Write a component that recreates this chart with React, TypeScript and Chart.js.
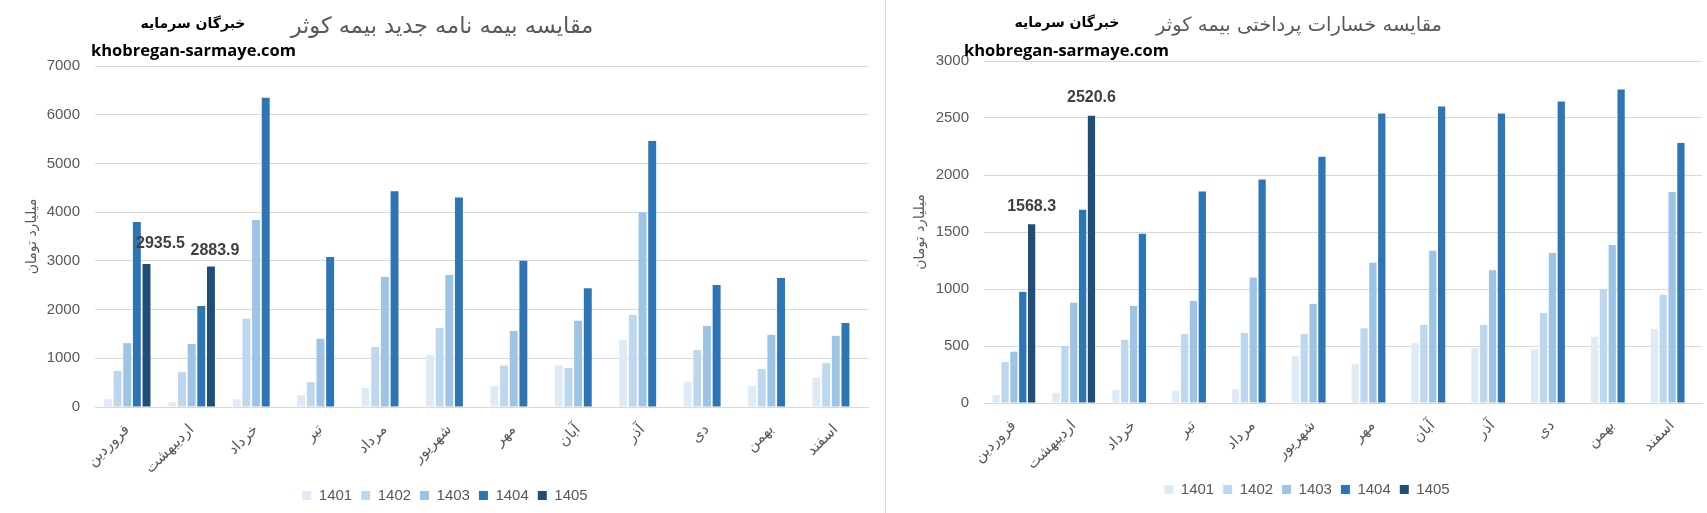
import React, { useEffect, useRef } from "react";
import { Chart, registerables } from "chart.js";

Chart.register(...registerables);

// ---------- data ----------
const MONTHS = ["فروردین", "اردیبهشت", "خرداد", "تیر", "مرداد", "شهریور", "مهر", "آبان", "آذر", "دی", "بهمن", "اسفند"];
const YEARS = ["1401", "1402", "1403", "1404", "1405"];
const COLORS = ["#DEEBF7", "#BDD7EE", "#9DC3E6", "#2E75B6", "#1F4E79"];

// left chart: new policies (billion toman)
const NEW_1401 = [160, 100, 160, 240, 390, 1065, 430, 850, 1380, 520, 430, 600];
const NEW_1402 = [740, 715, 1810, 510, 1230, 1625, 850, 800, 1890, 1170, 780, 900];
const NEW_1403 = [1310, 1295, 3840, 1400, 2670, 2710, 1560, 1770, 4000, 1665, 1480, 1460];
const NEW_1404 = [3800, 2075, 6350, 3080, 4430, 4300, 3000, 2440, 5460, 2505, 2650, 1725];
const NEW_1405 = [2935.5, 2883.9, null, null, null, null, null, null, null, null, null, null];
const NEW_TICKS = { max: 7000, step: 1000 };

// right chart: paid claims (billion toman)
const CLAIM_1401 = [70, 90, 115, 105, 120, 410, 340, 525, 480, 475, 580, 650];
const CLAIM_1402 = [360, 500, 555, 605, 615, 605, 655, 685, 685, 790, 1000, 950];
const CLAIM_1403 = [450, 880, 850, 895, 1100, 870, 1230, 1335, 1165, 1315, 1385, 1850];
const CLAIM_1404 = [975, 1695, 1485, 1855, 1960, 2160, 2540, 2600, 2540, 2645, 2750, 2280];
const CLAIM_1405 = [1568.3, 2520.6, null, null, null, null, null, null, null, null, null, null];
const CLAIM_TICKS = { max: 3000, step: 500 };

const TITLE_NEW = "مقایسه بیمه نامه جدید بیمه کوثر";
const TITLE_CLAIM = "مقایسه خسارات پرداختی بیمه کوثر";
const BRAND_FA = "خبرگان سرمایه";
const BRAND_EN = "khobregan-sarmaye.com";
const Y_TITLE = "میلیارد تومان";

// ---------- helpers ----------
const GRAY = "#595959";
const GRID = "#D9D9D9";
const LATIN = "'Liberation Sans', 'DejaVu Sans', sans-serif";
const ARABIC = "'DejaVu Sans', sans-serif";

const valueLabels = {
  id: "valueLabels",
  afterDatasetsDraw(chart: any, _args: any, opts: any) {
    const di = opts.datasetIndex;
    const meta = chart.getDatasetMeta(di);
    const data = chart.data.datasets[di].data;
    const ctx = chart.ctx;
    ctx.save();
    ctx.font = opts.font;
    ctx.fillStyle = opts.color;
    ctx.textAlign = "center";
    ctx.textBaseline = "middle";
    meta.data.forEach((bar: any, i: number) => {
      const v = data[i];
      if (v === null || v === undefined) return;
      const dx = (opts.shiftX && opts.shiftX[i]) || 0;
      const gap = (opts.gaps && opts.gaps[i]) || 18;
      ctx.fillText(String(v), bar.x + dx, bar.y - gap);
    });
    ctx.restore();
  },
};

function makeConfig(p: any) {
  return {
    type: "bar",
    data: {
      labels: MONTHS,
      datasets: YEARS.map((y, i) => ({
        label: y,
        data: p.series[i],
        backgroundColor: COLORS[i],
        borderWidth: 0,
        categoryPercentage: p.catPct,
        barPercentage: 0.82,
      })),
    },
    options: {
      responsive: false,
      maintainAspectRatio: false,
      animation: false,
      layout: { padding: { top: p.top, right: p.right, bottom: p.bottom, left: p.left } },
      plugins: {
        legend: {
          position: "bottom",
          labels: {
            boxWidth: 9,
            boxHeight: 9,
            padding: 9,
            color: GRAY,
            font: { size: 15, family: LATIN },
          },
        },
        tooltip: { enabled: false },
        valueLabels: {
          datasetIndex: 4,
          font: `bold 16px ${LATIN}`,
          color: "#404040",
          shiftX: p.labelShift,
          gaps: p.labelGap,
        },
      },
      scales: {
        x: {
          grid: { display: false },
          border: { color: GRID },
          ticks: {
            minRotation: 45,
            maxRotation: 45,
            autoSkip: false,
            padding: 6,
            color: GRAY,
            font: { size: 15, family: ARABIC },
          },
          afterFit: (s: any) => {
            s.height = p.xHeight;
          },
        },
        y: {
          min: 0,
          max: p.ticks.max,
          ticks: {
            stepSize: p.ticks.step,
            padding: 15,
            color: GRAY,
            font: { size: 15, family: LATIN },
            callback: (v: any) => String(v),
          },
          grid: { color: GRID, drawTicks: false },
          border: { display: false },
          title: {
            display: true,
            text: Y_TITLE,
            color: GRAY,
            font: { size: 14, family: ARABIC },
            padding: { top: p.yTitlePad, bottom: 0 },
          },
          afterFit: (s: any) => {
            s.width = p.yWidth;
          },
        },
      },
    },
    plugins: [valueLabels],
  };
}

function BarChart(props: { w: number; h: number; cfg: any }) {
  const ref = useRef<HTMLCanvasElement>(null);
  useEffect(() => {
    const chart = new Chart(ref.current as HTMLCanvasElement, props.cfg);
    return () => chart.destroy();
  }, []);
  return <canvas ref={ref} width={props.w} height={props.h} style={{ width: props.w, height: props.h, display: "block" }} />;
}

const abs = (o: any): React.CSSProperties => ({ position: "absolute", whiteSpace: "nowrap", ...o });

export default function App() {
  const leftCfg = makeConfig({
    series: [NEW_1401, NEW_1402, NEW_1403, NEW_1404, NEW_1405],
    ticks: NEW_TICKS,
    top: 66,
    right: 17,
    bottom: 0,
    left: 22,
    xHeight: 72,
    yWidth: 73,
    yTitlePad: 2,
    catPct: 0.75,
    labelShift: [14, 4],
    labelGap: [20, 16],
  });
  const rightCfg = makeConfig({
    series: [CLAIM_1401, CLAIM_1402, CLAIM_1403, CLAIM_1404, CLAIM_1405],
    ticks: CLAIM_TICKS,
    top: 61,
    right: 5,
    bottom: 6,
    left: 26,
    xHeight: 70,
    yWidth: 72,
    yTitlePad: 0,
    catPct: 0.74,
    labelShift: [0, 0],
    labelGap: [18, 18],
  });

  const titleBase = { fontFamily: ARABIC, color: GRAY, direction: "rtl" as const, lineHeight: "26px" };
  const brandFa = { fontFamily: ARABIC, fontSize: 14, fontWeight: 700, color: "#000", direction: "rtl" as const, lineHeight: "18px" };
  const brandEn = { fontFamily: "'Open Sans', sans-serif", fontSize: 16.5, fontWeight: 700, color: "#000", lineHeight: "20px" };

  return (
    <div style={{ position: "fixed", left: 0, top: 0, width: 1707, height: 513, background: "#fff", overflow: "hidden" }}>
      <div style={abs({ left: 0, top: 0 })}>
        <BarChart w={885} h={513} cfg={leftCfg} />
      </div>
      <div style={abs({ left: 886, top: 0 })}>
        <BarChart w={821} h={513} cfg={rightCfg} />
      </div>
      <div style={abs({ left: 885, top: 0, width: 1, height: 513, background: GRID })} />

      <div style={abs({ left: 442, top: 12, transform: "translateX(-50%)", fontSize: 22.5, ...titleBase })}>{TITLE_NEW}</div>
      <div style={abs({ left: 193, top: 14, transform: "translateX(-50%)", ...brandFa })}>{BRAND_FA}</div>
      <div style={abs({ left: 91, top: 40, ...brandEn })}>{BRAND_EN}</div>

      <div style={abs({ left: 1299, top: 12, transform: "translateX(-50%)", fontSize: 19.5, ...titleBase })}>{TITLE_CLAIM}</div>
      <div style={abs({ left: 1067, top: 13, transform: "translateX(-50%)", ...brandFa })}>{BRAND_FA}</div>
      <div style={abs({ left: 964, top: 40, ...brandEn })}>{BRAND_EN}</div>
    </div>
  );
}
